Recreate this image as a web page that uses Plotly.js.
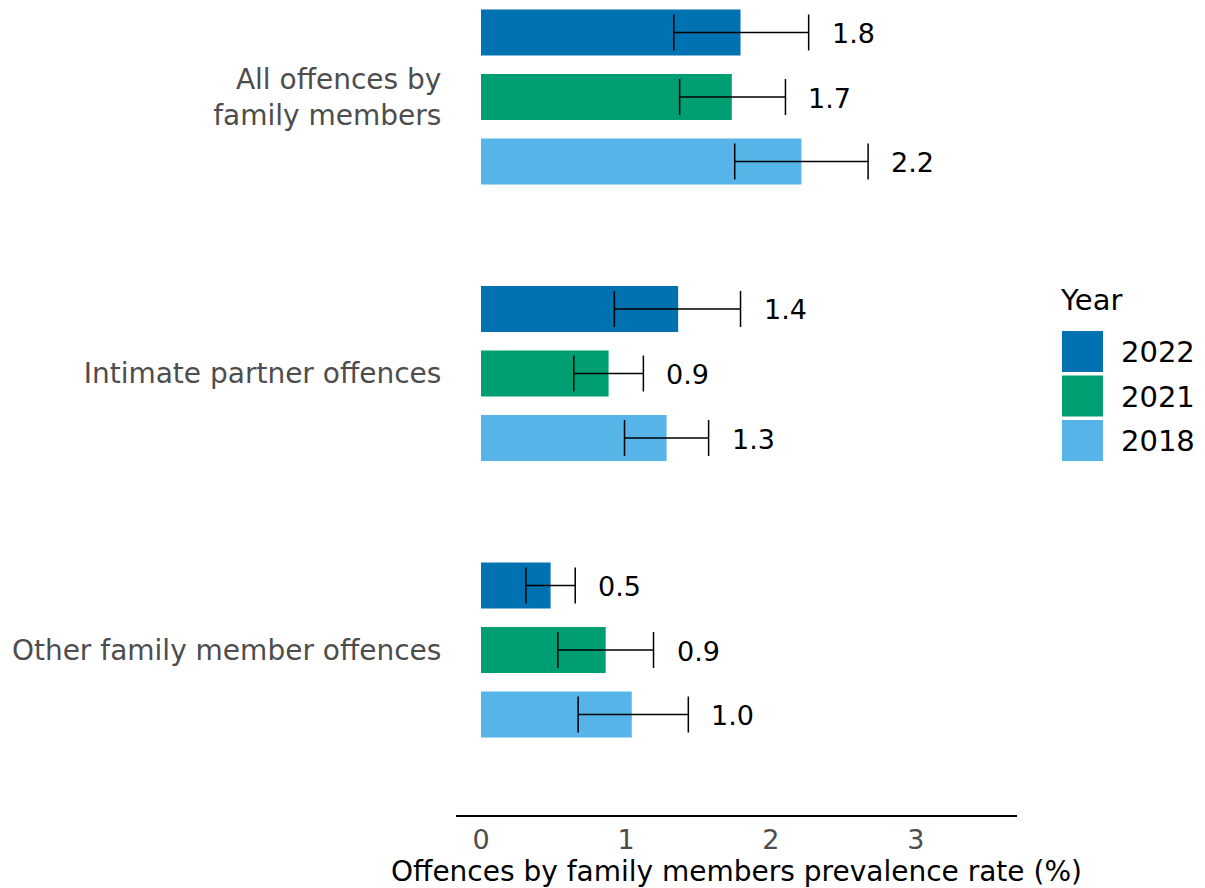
<!DOCTYPE html>
<html>
<head>
<meta charset="utf-8">
<script src="https://cdn.plot.ly/plotly-3.0.1.min.js"></script>
<style>html,body{margin:0;padding:0;background:#fff;}#chart{width:1205px;height:888px;}</style>
</head>
<body>
<div id="chart"></div>
<script>
// ---- data ----
var categories = ["All offences by<br>family members", "Intimate partner offences", "Other family member offences"];
var years = ["2022", "2021", "2018"];
var colors = ["#0072B2", "#009E73", "#56B4E9"];
var rate2022 = [1.79, 1.36, 0.48];
var lower2022 = [1.33, 0.92, 0.31];
var upper2022 = [2.26, 1.79, 0.65];
var rate2021 = [1.73, 0.88, 0.86];
var lower2021 = [1.37, 0.64, 0.53];
var upper2021 = [2.10, 1.12, 1.19];
var rate2018 = [2.21, 1.28, 1.04];
var lower2018 = [1.75, 0.99, 0.67];
var upper2018 = [2.67, 1.57, 1.43];
var xTicks = [0, 1, 2, 3];

// ---- build ----
var rates = [rate2022, rate2021, rate2018];
var lowers = [lower2022, lower2021, lower2018];
var uppers = [upper2022, upper2021, upper2018];
var FONT = "DejaVu Sans, sans-serif";
var pitch = 0.2333, barW = 0.166;
var catPos = categories.map(function (c, i) { return i; });

var traces = [], annotations = [];
years.forEach(function (yr, t) {
  var ys = catPos.map(function (p) { return p + (t - 1) * pitch; });
  traces.push({
    type: "bar", orientation: "h", name: yr,
    x: rates[t], y: ys, width: barW,
    marker: { color: colors[t], line: { width: 0 } },
    error_x: {
      type: "data", symmetric: false,
      array: rates[t].map(function (v, i) { return uppers[t][i] - v; }),
      arrayminus: rates[t].map(function (v, i) { return v - lowers[t][i]; }),
      color: "#000", thickness: 1.5, width: 18
    },
    showlegend: false, hoverinfo: "x+y"
  });
  rates[t].forEach(function (v, i) {
    annotations.push({
      x: uppers[t][i], y: ys[i], xref: "x", yref: "y",
      text: v.toFixed(1), showarrow: false, xanchor: "left", yanchor: "middle",
      xshift: 21, yshift: -1, font: { family: FONT, size: 27, color: "#000" }
    });
  });
});

// custom legend (paper coords)
var W = 1205, H = 888, L = 456, R = 188, T = 0, B = 73;
function px(x) { return (x - L) / (W - L - R); }
function py(y) { return 1 - (y - T) / (H - T - B); }
var shapes = [];
annotations.push({
  xref: "paper", yref: "paper", x: px(1058), y: py(300), xanchor: "left", yanchor: "middle",
  text: "Year", showarrow: false, font: { family: FONT, size: 29, color: "#000" }
});
years.forEach(function (yr, t) {
  var top = 331 + t * 44.5;
  shapes.push({
    type: "rect", xref: "paper", yref: "paper",
    x0: px(1062), x1: px(1103), y0: py(top), y1: py(top + 41),
    fillcolor: colors[t], line: { width: 0 }
  });
  annotations.push({
    xref: "paper", yref: "paper", x: px(1119), y: py(top + 21), xanchor: "left", yanchor: "middle",
    text: yr, showarrow: false, font: { family: FONT, size: 29, color: "#000" }
  });
});

var layout = {
  width: W, height: H,
  margin: { l: L, r: R, t: T, b: B, pad: 0 },
  paper_bgcolor: "#fff", plot_bgcolor: "#fff",
  showlegend: false,
  font: { family: FONT },
  xaxis: {
    range: [-0.1724, 3.697], tickvals: xTicks, ticktext: xTicks.map(String),
    showgrid: false, zeroline: false, showline: true, linecolor: "#000", linewidth: 2,
    ticks: "",
    tickfont: { family: FONT, size: 27, color: "#4d4d4d" },
    title: { text: "Offences by family members prevalence rate (%)", font: { family: FONT, size: 28, color: "#000" }, standoff: 2 },
    fixedrange: true
  },
  yaxis: {
    range: [2.5967, -0.3508], tickvals: catPos, ticktext: categories,
    showgrid: false, zeroline: false, showline: false,
    ticks: "outside", ticklen: 8, tickcolor: "rgba(0,0,0,0)",
    tickfont: { family: FONT, size: 28, color: "#4d4d4d" },
    fixedrange: true
  },
  shapes: shapes,
  annotations: annotations
};

Plotly.newPlot("chart", traces, layout, { displayModeBar: false, staticPlot: true });
</script>
</body>
</html>
